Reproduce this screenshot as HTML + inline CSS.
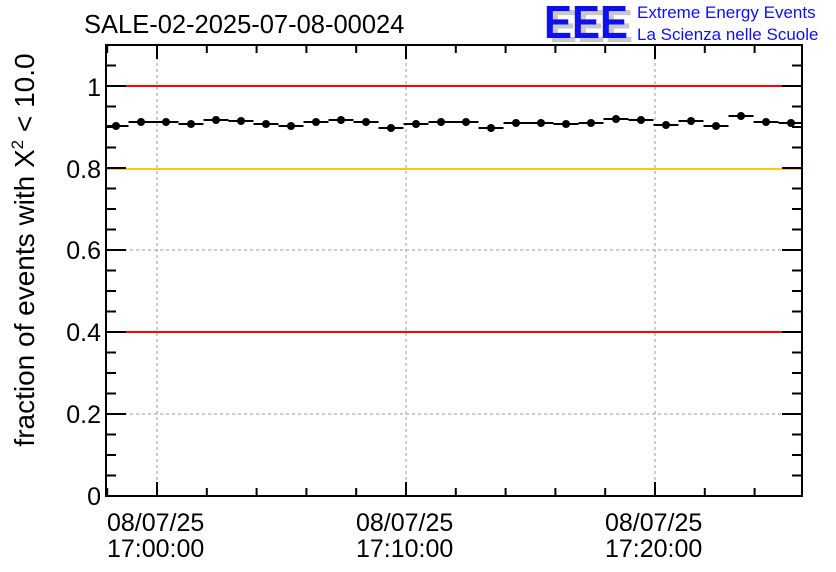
<!DOCTYPE html>
<html><head><meta charset="utf-8"><style>body{margin:0;background:#fff}svg{display:block}</style></head><body>
<svg width="836" height="572" xmlns="http://www.w3.org/2000/svg" font-family="Liberation Sans, sans-serif">
<rect width="836" height="572" fill="#fff"/>
<text x="84" y="33" font-size="25.5" fill="#000">SALE-02-2025-07-08-00024</text>
<text x="549" y="42" font-size="46" font-weight="bold" fill="#c8c8c8" textLength="84" lengthAdjust="spacingAndGlyphs">EEE</text>
<text x="544" y="38" font-size="46" font-weight="bold" fill="#1010ee" textLength="84" lengthAdjust="spacingAndGlyphs">EEE</text>
<text x="637" y="18" font-size="17" fill="#1010ee">Extreme Energy Events</text>
<text x="637" y="40" font-size="17" fill="#1010ee">La Scienza nelle Scuole</text>
<g stroke="#999" stroke-width="1" stroke-dasharray="3,3">
<line x1="157" y1="45" x2="157" y2="496"/><line x1="406" y1="45" x2="406" y2="496"/><line x1="655" y1="45" x2="655" y2="496"/>
<line x1="106" y1="414" x2="802" y2="414"/><line x1="106" y1="250" x2="802" y2="250"/>
</g>
<line x1="106" y1="86" x2="802" y2="86" stroke="#f00" stroke-width="2"/>
<line x1="106" y1="332" x2="802" y2="332" stroke="#f00" stroke-width="2"/>
<line x1="106" y1="169" x2="802" y2="169" stroke="#ffcc00" stroke-width="2"/>
<path stroke="#000" stroke-width="2" fill="none" d="M106 126H128.5M128.5 122H178.5M178.5 124H203.5M203.5 120H228.5M228.5 121H253.5M253.5 124H278.5M278.5 126H303.5M303.5 122H328.5M328.5 120H353.5M353.5 122H378.5M378.5 128H403.5M403.5 124H428.5M428.5 122H478.5M478.5 128H503.5M503.5 123H553.5M553.5 124H578.5M578.5 123H603.5M603.5 119H628.5M628.5 120H653.5M653.5 125H678.5M678.5 121H703.5M703.5 126H728.5M728.5 116H753.5M753.5 122H778.5M778.5 123H802"/>
<g fill="#000">
<circle cx="116" cy="126" r="4"/><circle cx="141" cy="122" r="4"/><circle cx="166" cy="122" r="4"/><circle cx="191" cy="124" r="4"/><circle cx="216" cy="120" r="4"/><circle cx="241" cy="121" r="4"/><circle cx="266" cy="124" r="4"/><circle cx="291" cy="126" r="4"/><circle cx="316" cy="122" r="4"/><circle cx="341" cy="120" r="4"/><circle cx="366" cy="122" r="4"/><circle cx="391" cy="128" r="4"/><circle cx="416" cy="124" r="4"/><circle cx="441" cy="122" r="4"/><circle cx="466" cy="122" r="4"/><circle cx="491" cy="128" r="4"/><circle cx="516" cy="123" r="4"/><circle cx="541" cy="123" r="4"/><circle cx="566" cy="124" r="4"/><circle cx="591" cy="123" r="4"/><circle cx="616" cy="119" r="4"/><circle cx="641" cy="120" r="4"/><circle cx="666" cy="125" r="4"/><circle cx="691" cy="121" r="4"/><circle cx="716" cy="126" r="4"/><circle cx="741" cy="116" r="4"/><circle cx="766" cy="122" r="4"/><circle cx="791" cy="123" r="4"/>
</g>
<rect x="106" y="45" width="696" height="451" fill="none" stroke="#000" stroke-width="2"/>
<path stroke="#000" stroke-width="2" fill="none" d="
M106 414h20M106 332h20M106 250h20M106 168h20M106 86h20
M782 414h20M782 332h20M782 250h20M782 168h20M782 86h20
M106 475.5h10M106 455h10M106 434.5h10M106 393.5h10M106 373h10M106 352.5h10M106 311.5h10M106 291h10M106 270.5h10M106 229.5h10M106 209h10M106 188.5h10M106 147.5h10M106 127h10M106 106.5h10M106 65.5h10
M792 475.5h10M792 455h10M792 434.5h10M792 393.5h10M792 373h10M792 352.5h10M792 311.5h10M792 291h10M792 270.5h10M792 229.5h10M792 209h10M792 188.5h10M792 147.5h10M792 127h10M792 106.5h10M792 65.5h10
M157 496v-14M406 496v-14M655 496v-14M157 45v14M406 45v14M655 45v14
M107.2 496v-8M206.8 496v-8M256.6 496v-8M306.4 496v-8M356.2 496v-8M455.8 496v-8M505.6 496v-8M555.4 496v-8M605.2 496v-8M704.8 496v-8M754.6 496v-8
M107.2 45v8M206.8 45v8M256.6 45v8M306.4 45v8M356.2 45v8M455.8 45v8M505.6 45v8M555.4 45v8M605.2 45v8M704.8 45v8M754.6 45v8"/>
<g font-size="25" fill="#000" text-anchor="end">
<text x="101" y="505">0</text><text x="101" y="423">0.2</text><text x="101" y="341">0.4</text><text x="101" y="259">0.6</text><text x="101" y="178">0.8</text><text x="101" y="96">1</text>
</g>
<g font-size="25" fill="#000">
<text x="107" y="531">08/07/25</text><text x="107" y="557">17:00:00</text>
<text x="356" y="531">08/07/25</text><text x="356" y="557">17:10:00</text>
<text x="605" y="531">08/07/25</text><text x="605" y="557">17:20:00</text>
</g>
<text transform="translate(34,250) rotate(-90)" font-size="28" text-anchor="middle" fill="#000">fraction of events with X<tspan dy="-11" font-size="17">2</tspan><tspan dy="11"> &lt; 10.0</tspan></text>
</svg>
</body></html>
